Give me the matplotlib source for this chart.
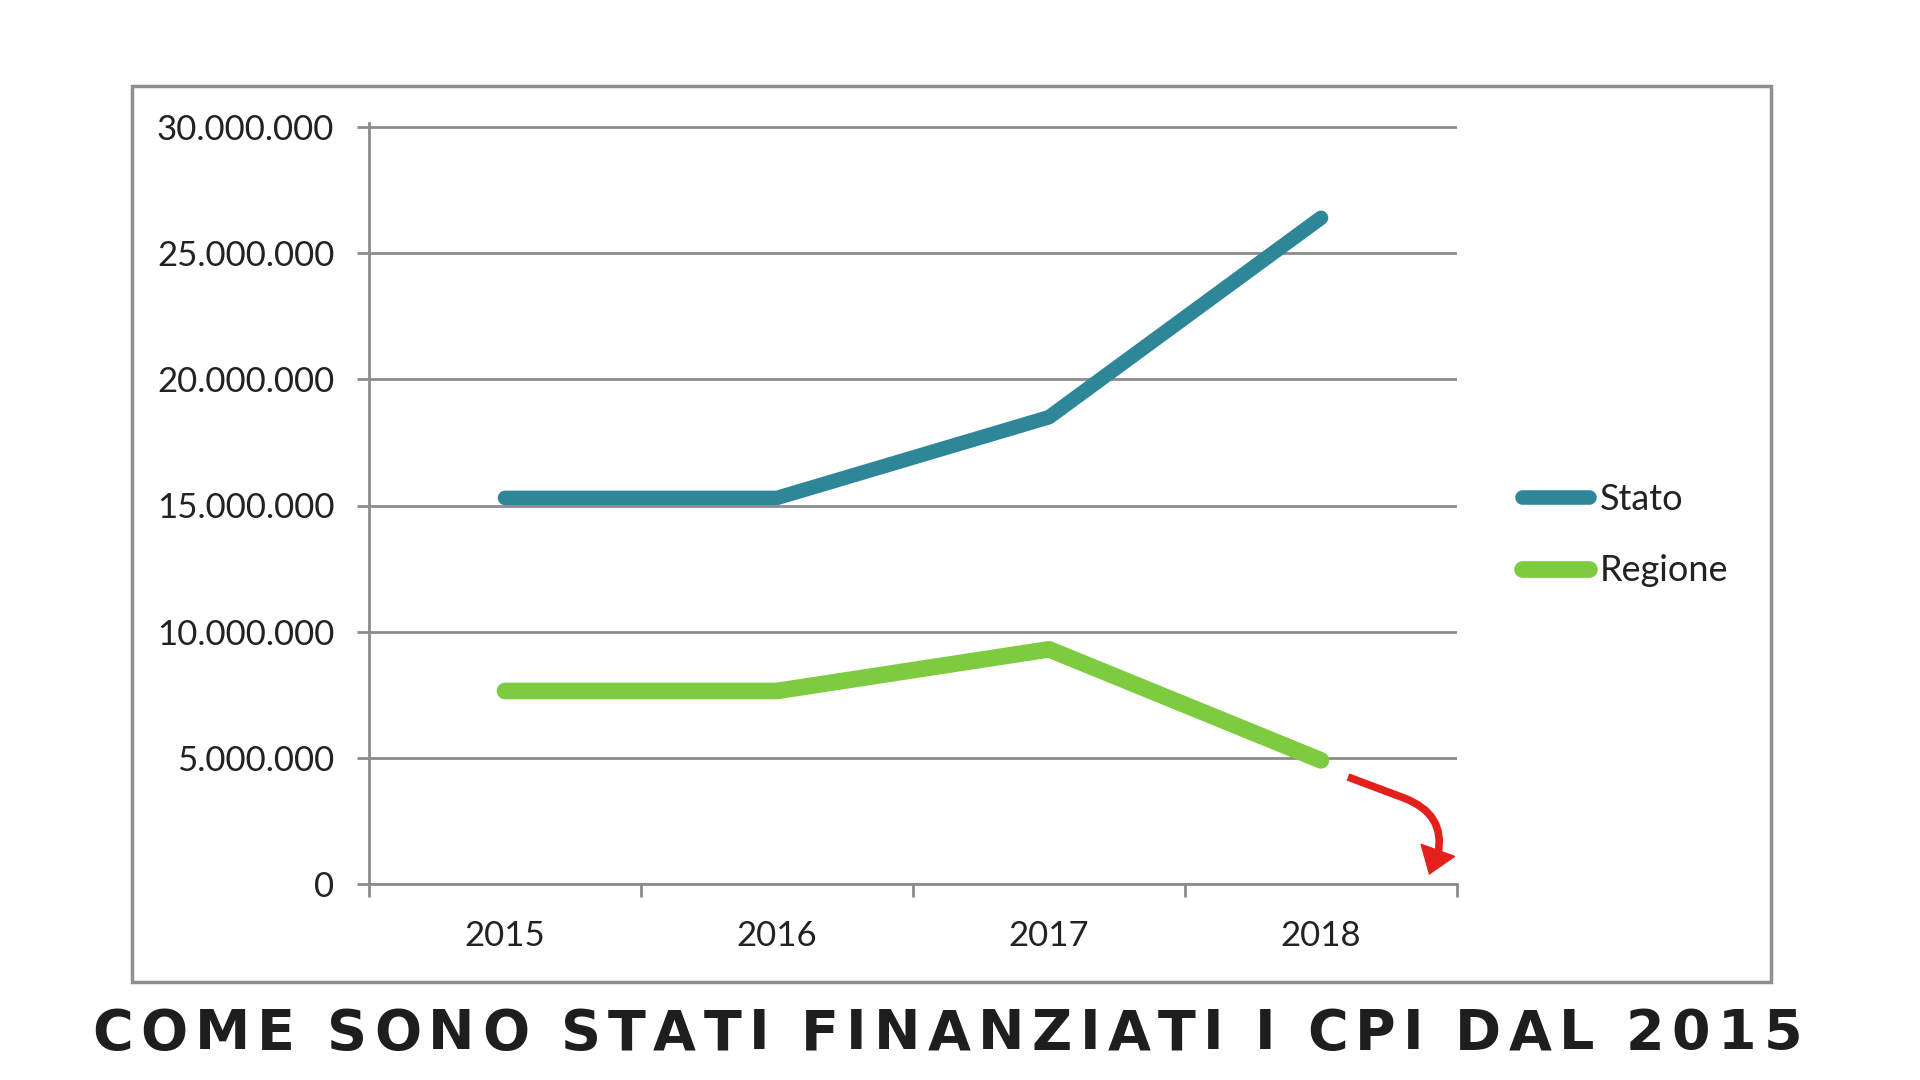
import numpy as np
import matplotlib
matplotlib.use("Agg")
import matplotlib.pyplot as plt
from matplotlib.patches import Rectangle, PathPatch
from matplotlib.path import Path
from matplotlib.lines import Line2D
from matplotlib.ticker import FuncFormatter

# dati
anni = ['2015', '2016', '2017', '2018']
stato = [15300000, 15300000, 18500000, 26400000]
regione = [7650000, 7650000, 9300000, 4900000]
tacche_y = [0, 5000000, 10000000, 15000000, 20000000, 25000000, 30000000]
titolo = 'COME SONO STATI FINANZIATI I CPI DAL 2015'

COL_STATO = '#2E8699'
COL_REGIONE = '#7DCB3E'
GRIGIO = '#8C8C8C'
TESTO = '#222222'
ROSSO = '#E3201B'
FONT = 'Lato'


def formatta(v, pos):
    return f'{int(v):,}'.replace(',', '.')


def px_a_dati(px, py):
    # pixel della figura (1920x1080) -> coordinate dei dati
    return (px - 369) / 272 - 0.5, (884 - py) / 757 * 30000000


def testo_spaziato(fig, s, x_centro, y_base, size, larghezza):
    # titolo con spaziatura tra le lettere (tracking)
    r = fig.canvas.get_renderer()
    pezzi = []
    larg = []
    for c in s:
        t = fig.text(0, y_base, c, fontsize=size, fontweight='bold', color='#1E1E1E',
                     family='DejaVu Sans', ha='left', va='baseline')
        pezzi.append(t)
        if c == ' ':
            larg.append(0.30 * size * fig.dpi / 72)
        else:
            larg.append(t.get_window_extent(r).width)
    W = fig.get_figwidth() * fig.dpi
    gap = (larghezza - sum(larg)) / (len(s) - 1)
    x = x_centro * W - larghezza / 2
    for t, w in zip(pezzi, larg):
        t.set_x(x / W)
        x += w + gap


fig = plt.figure(figsize=(19.2, 10.8), dpi=100)
fig.patch.set_facecolor('white')

# cornice esterna
fig.patches.append(Rectangle((132 / 1920, 1 - 982 / 1080), (1771 - 132) / 1920, (982 - 86) / 1080,
                             transform=fig.transFigure, fill=False, ec='#8F8F8F', lw=2.5))

ymax = 30150000
ax = fig.add_axes([369 / 1920, 1 - 884 / 1080, (1457 - 369) / 1920, 757 * ymax / 30000000 / 1080])
x = np.arange(len(anni))
ax.plot(x, stato, color=COL_STATO, lw=10.5, solid_capstyle='round', solid_joinstyle='round', zorder=3)
ax.plot(x, regione, color=COL_REGIONE, lw=12, solid_capstyle='round', solid_joinstyle='round', zorder=3)

ax.set_xlim(-0.5, 3.5)
ax.set_ylim(0, ymax)
ax.set_yticks(tacche_y)
ax.yaxis.set_major_formatter(FuncFormatter(formatta))
ax.grid(axis='y', color=GRIGIO, lw=2)
ax.set_axisbelow(True)
for s in ['top', 'right']:
    ax.spines[s].set_visible(False)
for s in ['left', 'bottom']:
    ax.spines[s].set_color(GRIGIO)
    ax.spines[s].set_linewidth(2)

ax.set_xticks(np.arange(-0.5, 4, 1))
ax.set_xticklabels([])
ax.set_xticks(x, minor=True)
ax.set_xticklabels(anni, minor=True)
ax.tick_params(axis='x', which='major', length=9, width=2, color=GRIGIO, direction='out')
ax.tick_params(axis='x', which='minor', length=0, pad=26, labelsize=25, labelcolor=TESTO)
ax.tick_params(axis='y', length=9, width=2, color=GRIGIO, pad=16, labelsize=25, labelcolor=TESTO)
for lab in ax.get_xticklabels(minor=True) + ax.get_yticklabels():
    lab.set_family(FONT)

# freccia rossa: tratto dritto, curva verso il basso e punta
punti = [px_a_dati(1348, 777), px_a_dati(1404, 798), px_a_dati(1446, 814), px_a_dati(1438, 854)]
gambo = PathPatch(Path(punti, [Path.MOVETO, Path.LINETO, Path.CURVE3, Path.CURVE3]),
                  fill=False, ec=ROSSO, lw=5.5, capstyle='butt', clip_on=False, zorder=4)
ax.add_patch(gambo)
ax.annotate('', xy=px_a_dati(1429, 875), xytext=px_a_dati(1438, 850), annotation_clip=False,
            arrowprops=dict(arrowstyle='-|>,head_length=0.45,head_width=0.32', mutation_scale=40,
                            color=ROSSO, lw=1, shrinkA=0, shrinkB=0), zorder=4)

# legenda
maniglie = [Line2D([], [], color=COL_STATO, lw=10.5, solid_capstyle='round'),
            Line2D([], [], color=COL_REGIONE, lw=12, solid_capstyle='round')]
leg = fig.legend(maniglie, ['Stato', 'Regione'], loc='upper left',
                 bbox_to_anchor=(1522 / 1920, 1 - 483 / 1080), frameon=False,
                 borderpad=0, borderaxespad=0, handlelength=1.85, handletextpad=0.3,
                 labelspacing=1.06, prop={'family': FONT, 'size': 26})
for t in leg.get_texts():
    t.set_color(TESTO)

fig.canvas.draw()
testo_spaziato(fig, titolo, 947 / 1920, 1 - 1049 / 1080, 40, 1710)

fig.savefig('out.png', dpi=100, facecolor='white')
